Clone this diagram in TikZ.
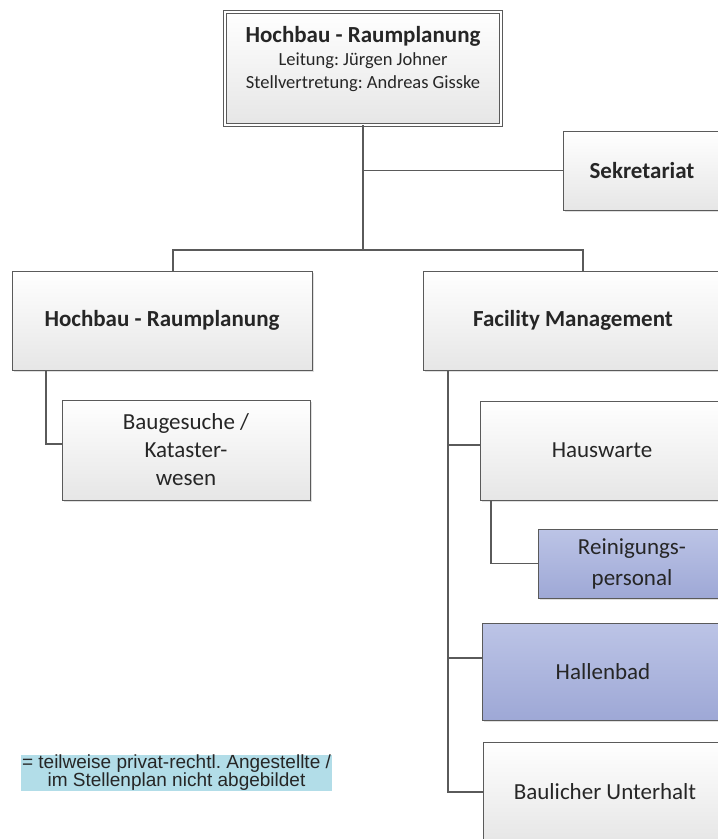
\documentclass[tikz,border=0pt]{standalone}
\usepackage{fontspec}
\setmainfont{Carlito}
\newfontfamily\legendfont{Liberation Sans}
\usetikzlibrary{shadows}
\frenchspacing

\definecolor{linegray}{HTML}{5A5A5A}
\definecolor{textgray}{HTML}{262626}
\definecolor{boxgray}{HTML}{E6E6E6}
\definecolor{bluetop}{HTML}{BCC4E6}
\definecolor{bluebot}{HTML}{9EA8D6}
\definecolor{legendblue}{HTML}{B2DDE8}

\tikzset{
  orgbox/.style={draw=linegray, line width=1pt, top color=white, bottom color=boxgray,
    drop shadow={shadow xshift=2pt, shadow yshift=-2pt, opacity=0.25},
    text=textgray, align=center, inner sep=0pt, font=\fontsize{23}{28}\selectfont},
  bluebox/.style={orgbox, top color=bluetop, bottom color=bluebot},
  topbox/.style={orgbox, double=white, double distance=2pt},
  conn/.style={draw=linegray, line width=1.3pt}
}

\begin{document}
\begin{tikzpicture}[x=1pt, y=-1pt]
\useasboundingbox (0, 0) rectangle (718, 839);
\clip (0, 0) rectangle (718, 839);

\node[topbox, minimum width=276pt, minimum height=113pt] at (363, 68) (leitung)
  {\parbox[c][83pt][t]{270pt}{\centering\bfseries Hochbau - Raumplanung\\
   \fontsize{18.5}{23}\selectfont\mdseries Leitung: Jürgen Johner\\Stellvertretung: Andreas Gisske}};
\node[orgbox, minimum width=158pt, minimum height=79pt] at (642, 170.5) (sekretariat) {\bfseries Sekretariat};
\node[orgbox, minimum width=300pt, minimum height=99pt] at (162, 320.5) (hochbau) {\bfseries Hochbau - Raumplanung};
\node[orgbox, minimum width=300pt, minimum height=99pt] at (573, 320.5) (facility) {\bfseries Facility Management};
\node[orgbox, minimum width=248pt, minimum height=100pt] at (186, 450) (baugesuche) {Baugesuche /\\Kataster-\\wesen};
\node[orgbox, minimum width=244pt, minimum height=99pt] at (602, 450.5) (hauswarte) {Hauswarte};
\node[bluebox, minimum width=188pt, minimum height=69pt, font=\fontsize{23}{31}\selectfont] at (632, 563.5) (reinigung) {Reinigungs-\\personal};
\node[bluebox, minimum width=242pt, minimum height=97pt] at (603, 671.5) (hallenbad) {Hallenbad};
\node[orgbox, minimum width=244pt, minimum height=100pt] at (605, 792) (baulicher) {Baulicher Unterhalt};

\node[fill=legendblue, minimum width=311pt, minimum height=36pt, inner sep=0pt, align=center,
  text=textgray, font=\legendfont\fontsize{19}{18}\selectfont] at (176.5, 773) (legende)
  {= teilweise privat-rechtl. Angestellte /\\im Stellenplan nicht abgebildet};

% Verbindungen
\coordinate (hub) at (363, 250);
\coordinate (hubL) at (173, 250);
\coordinate (hubR) at (583, 250);
\draw[conn] (leitung.south) -- (hub);
\draw[conn] (leitung.south |- sekretariat.west) -- (sekretariat.west);
\draw[conn] (hochbau.north -| hubL) -- (hubL) -- (hubR) -- (facility.north -| hubR);

\coordinate (hbLine) at (46, 444);
\draw[conn] (hochbau.south -| hbLine) -- (hbLine) -- (baugesuche.west |- hbLine);

\coordinate (fmHaus) at (448, 445);
\coordinate (fmBad) at (448, 658);
\coordinate (fmBau) at (448, 792);
\draw[conn] (facility.south -| fmBau) -- (fmBau) -- (baulicher.west);
\draw[conn] (fmHaus) -- (hauswarte.west |- fmHaus);
\draw[conn] (fmBad) -- (hallenbad.west |- fmBad);

\coordinate (hwLine) at (491, 563.5);
\draw[conn] (hauswarte.south -| hwLine) -- (hwLine) -- (reinigung.west);
\end{tikzpicture}
\end{document}
